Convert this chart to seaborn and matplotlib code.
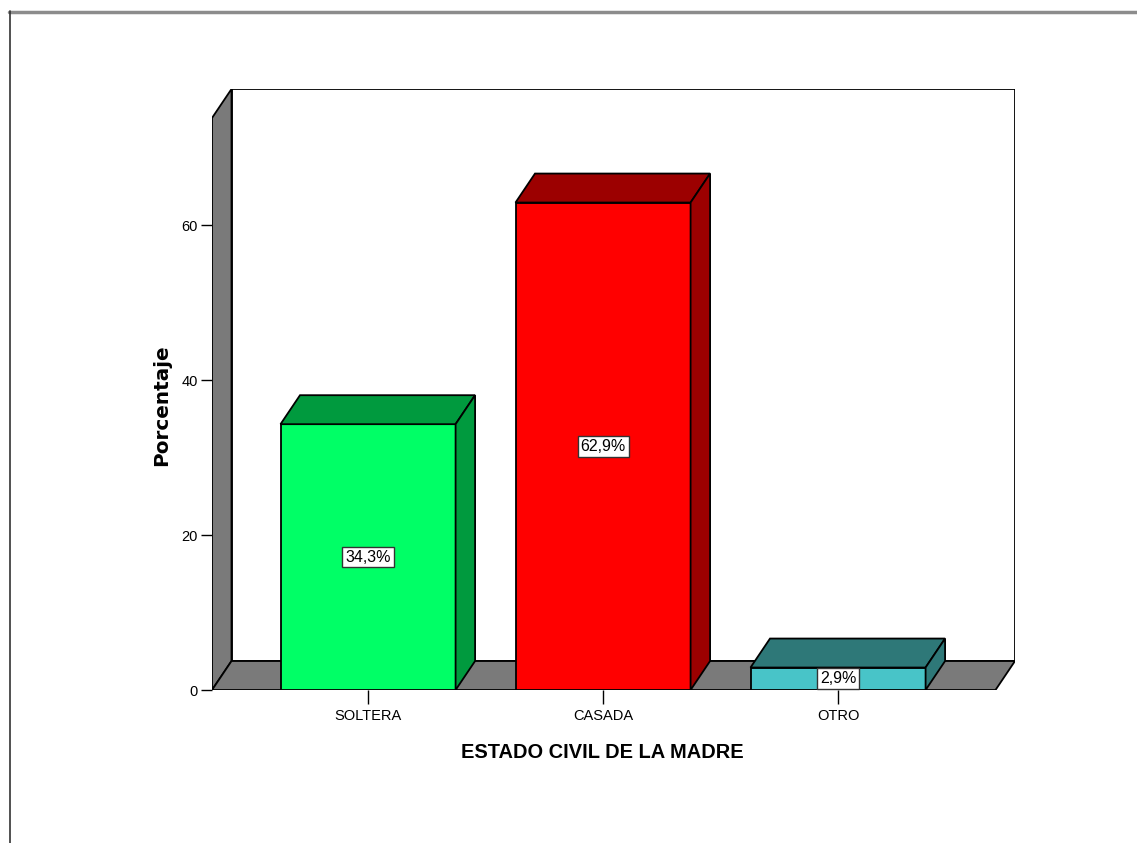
import matplotlib
matplotlib.use("Agg")
import matplotlib.pyplot as plt
from matplotlib.patches import Polygon
from matplotlib.lines import Line2D
import seaborn as sns

# Data
categories = ["SOLTERA", "CASADA", "OTRO"]
percentages = [34.3, 62.9, 2.9]
front_colors = ["#00ff66", "#ff0000", "#48c4c8"]
shade_colors = ["#009a3e", "#9c0000", "#2e7878"]
y_ticks = [0, 20, 40, 60]

sns.set_theme(style="white")
plt.rcParams["font.family"] = ["Liberation Sans", "DejaVu Sans"]
plt.rcParams["text.color"] = "black"
plt.rcParams["axes.labelcolor"] = "black"
plt.rcParams["xtick.color"] = "black"
plt.rcParams["ytick.color"] = "black"

fig = plt.figure(figsize=(11.37, 8.43), dpi=100)
ax = fig.add_axes([0.18646, 0.18149, 0.70624, 0.71293])

bar_w = 0.745
dx, dy = 0.083, 3.74
x0, x1 = -0.664, 2.753
ytop = 77.55
wall_gray = "#7a7a7a"
lw = 1.3

# back wall, left wall, floor
ax.add_patch(Polygon([(x0 + dx, dy), (x1, dy), (x1, ytop), (x0 + dx, ytop)],
                     closed=True, fc="white", ec="black", lw=lw, zorder=0.5))
ax.add_patch(Polygon([(x0, 0), (x0 + dx, dy), (x0 + dx, ytop), (x0, ytop - dy)],
                     closed=True, fc=wall_gray, ec="black", lw=lw, zorder=0.6))
ax.add_patch(Polygon([(x0, 0), (x1 - dx, 0), (x1, dy), (x0 + dx, dy)],
                     closed=True, fc=wall_gray, ec="black", lw=lw, zorder=0.6))

# front faces of bars
sns.barplot(x=categories, y=percentages, hue=categories, palette=front_colors,
            legend=False, width=bar_w, edgecolor="black", linewidth=lw,
            saturation=1, ax=ax)
for p in ax.patches[3:]:
    p.set_zorder(2)

# top and side faces
for i, v in enumerate(percentages):
    l, r = i - bar_w / 2, i + bar_w / 2
    top = Polygon([(l, v), (r, v), (r + dx, v + dy), (l + dx, v + dy)],
                  closed=True, fc=shade_colors[i], ec="black", lw=lw, zorder=2)
    side = Polygon([(r, 0), (r + dx, dy), (r + dx, v + dy), (r, v)],
                   closed=True, fc=shade_colors[i], ec="black", lw=lw, zorder=2)
    ax.add_patch(top)
    ax.add_patch(side)
    ax.text(i, v / 2, f"{v:.1f}%".replace(".", ","), ha="center", va="center",
            fontsize=11.5, color="black", zorder=5,
            bbox=dict(boxstyle="square,pad=0.18", fc="white", ec="#333333", lw=1))

ax.set_xlim(x0, x1)
ax.set_ylim(0, ytop)
ax.set_yticks(y_ticks)
ax.set_yticklabels([str(t) for t in y_ticks], fontsize=10.5)
ax.tick_params(axis="y", left=True, length=8, width=1, color="black", pad=2)
ax.tick_params(axis="x", bottom=True, length=10, width=1, color="black",
               pad=4, labelsize=10.5)
for s in ax.spines.values():
    s.set_visible(False)
ax.set_facecolor("none")

ax.set_xlabel("ESTADO CIVIL DE LA MADRE", fontsize=14.4, fontweight="bold")
ax.xaxis.label.set_va("center")
ax.xaxis.set_label_coords(0.4857, -0.1048)
ax.set_ylabel("Porcentaje", fontsize=14.4, fontweight="bold",
              family=["DejaVu Sans"])
ax.yaxis.label.set(rotation_mode="default", va="center", ha="center")
ax.yaxis.set_label_coords(-0.0623, 0.474)

# viewer frame lines
fig.add_artist(Line2D([9 / 1137, 1], [1 - 11.5 / 843, 1 - 11.5 / 843],
                      color="#8c8c8c", lw=2.5))
fig.add_artist(Line2D([9.5 / 1137, 9.5 / 1137], [0, 1 - 11 / 843],
                      color="#333333", lw=1.2))

fig.savefig("out.png", dpi=100)
